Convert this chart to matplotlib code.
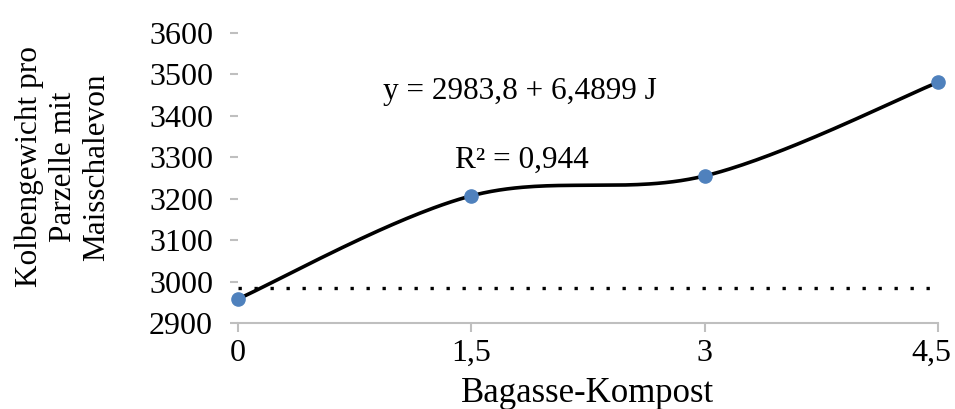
import numpy as np
import matplotlib
matplotlib.use("Agg")
import matplotlib.pyplot as plt
from matplotlib.transforms import ScaledTranslation

# data
kompost = [0, 1.5, 3, 4.5]
gewicht = [2958, 3207, 3255, 3481]
trend_level = 2983.8
x_ticks = [0, 1.5, 3, 4.5]
x_ticklabels = ["0", "1,5", "3", "4,5"]
y_ticks = [2900, 3000, 3100, 3200, 3300, 3400, 3500, 3600]

equation = "y = 2983,8 + 6,4899 J"
r2_text = "R² = 0,944"


def smooth_curve(ax, x, y, n=60):
    """Excel-like smoothed line: Catmull-Rom in screen space."""
    pts = ax.transData.transform(np.column_stack([x, y]))
    out = []
    m = len(pts)
    for i in range(m - 1):
        p0 = pts[i - 1] if i > 0 else pts[i]
        p1 = pts[i]
        p2 = pts[i + 1]
        p3 = pts[i + 2] if i + 2 < m else pts[i + 1]
        c1 = p1 + (p2 - p0) / 6.0
        c2 = p2 - (p3 - p1) / 6.0
        t = np.linspace(0, 1, n)[:, None]
        seg = ((1 - t) ** 3) * p1 + 3 * ((1 - t) ** 2) * t * c1 \
            + 3 * (1 - t) * t ** 2 * c2 + t ** 3 * p2
        out.append(seg if i == 0 else seg[1:])
    out = np.vstack(out)
    return ax.transData.inverted().transform(out)


plt.rcParams["font.family"] = "Liberation Serif"

fig = plt.figure(figsize=(9.55, 4.09), dpi=100)
ax = fig.add_axes([238 / 955, 1 - 323 / 409, 700 / 955, 290 / 409])
ax.set_xlim(0, 4.5)
ax.set_ylim(2900, 3600)

grey = "#bfbfbf"
for side in ["top", "right", "left"]:
    ax.spines[side].set_visible(False)
ax.spines["bottom"].set_color(grey)
ax.spines["bottom"].set_linewidth(1.5)

ax.set_xticks(x_ticks)
ax.set_xticklabels(x_ticklabels)
ax.set_yticks(y_ticks)
ax.tick_params(axis="x", direction="out", length=6.5, width=1.5, color=grey,
               labelsize=23, pad=5)
ax.tick_params(axis="y", direction="out", length=6, width=1.5, color=grey,
               labelsize=23, pad=12)

# Excel nudges the last category label inward so it stays on the canvas
last = ax.get_xticklabels()[-1]
last.set_transform(last.get_transform() + ScaledTranslation(-0.07, 0, fig.dpi_scale_trans))

# trend level (dotted)
ax.plot([kompost[0], kompost[-1]], [trend_level, trend_level], color="black",
        linewidth=2.4, linestyle=(0, (1, 3.8)), clip_on=False, zorder=2)

# smoothed series line + markers
fig.canvas.draw()
curve = smooth_curve(ax, kompost, gewicht)
ax.plot(curve[:, 0], curve[:, 1], color="black", linewidth=2.6,
        solid_capstyle="round", clip_on=False, zorder=3)
ax.plot(kompost, gewicht, linestyle="none", marker="o", markersize=9.5,
        color="#4f81bd", clip_on=False, zorder=4)

ax.text(383 / 955, 1 - 92 / 409, equation, transform=fig.transFigure,
        fontsize=22.5, va="center", ha="left")
ax.text(455 / 955, 1 - 160 / 409, r2_text, transform=fig.transFigure,
        fontsize=22.5, va="center", ha="left")

fig.text(588 / 955, 1 - 393 / 409, "Bagasse-Kompost", fontsize=25,
         ha="center", va="center")
fig.text(63 / 955, 1 - 167 / 409, "Kolbengewicht pro\nParzelle mit\nMaisschalevon",
         rotation=90, fontsize=22.5, ha="center", va="center",
         multialignment="center", linespacing=1.2)

fig.savefig("out.png", dpi=100)
